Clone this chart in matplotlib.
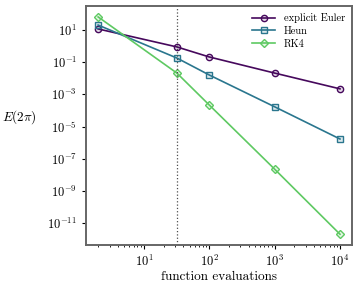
import numpy as np
import matplotlib
matplotlib.use("Agg")
import matplotlib.pyplot as plt
from matplotlib.colors import to_rgba

plt.rcParams["font.family"] = "serif"
plt.rcParams["font.serif"] = ["cmr10"]
plt.rcParams["mathtext.fontset"] = "cm"
plt.rcParams["axes.formatter.use_mathtext"] = True

# function evaluations and errors at t = 2*pi
n_evals = [2, 32, 100, 1000, 10000]
err_euler = [11.5, 0.88, 0.21, 0.021, 0.0022]
err_heun = [20.0, 0.18, 0.016, 1.7e-4, 1.7e-6]
err_rk4 = [64.0, 0.021, 2.2e-4, 2.3e-8, 2.1e-12]
labels = ["explicit Euler", "Heun", "RK4"]
colors = ["#46085c", "#2a768e", "#5ec962"]
markers = ["o", "s", "D"]
vline_x = 32

fig = plt.figure(figsize=(3.6, 2.88), dpi=100)
ax = fig.add_axes([0.239, 0.149, 0.739, 0.83])

for errs, lab, c, m in zip([err_euler, err_heun, err_rk4], labels, colors, markers):
    ms = 4.0 if m == "D" else 4.5
    ax.loglog(n_evals, errs, color=c, marker=m, ms=ms, lw=1.2,
              mfc=to_rgba(c, 0.15), mec=c, mew=1.0, label=lab)

ax.axvline(vline_x, color="0.3", ls=":", lw=0.9)

ax.set_yticks([1e1, 1e-1, 1e-3, 1e-5, 1e-7, 1e-9, 1e-11])
ax.yaxis.set_minor_locator(matplotlib.ticker.NullLocator())
ax.tick_params(labelsize=9)
ax.tick_params(which="major", length=3)
ax.tick_params(which="minor", length=1.5)
for s in ax.spines.values():
    s.set_color("0.4")
    s.set_linewidth(1.4)

ax.set_xlabel("function evaluations", fontsize=9.5, labelpad=1)
ax.set_ylabel(r"$E(2\pi)$", fontsize=9.5, rotation=0, labelpad=20)
ax.legend(frameon=False, fontsize=7.5, loc="upper right", handlelength=2.2,
          borderaxespad=0.3, labelspacing=0.3)

fig.savefig("out.png", dpi=100)
